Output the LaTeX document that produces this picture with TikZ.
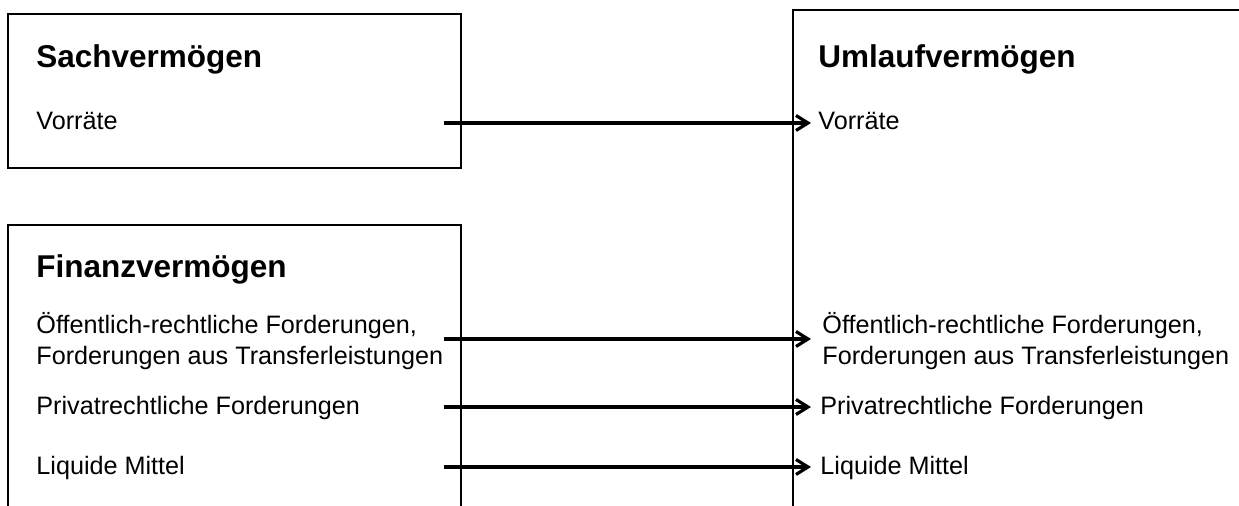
\documentclass[tikz,border=0pt]{standalone}
\usepackage{fontspec}
\setmainfont{Liberation Sans}
\usetikzlibrary{arrows.meta}

\begin{document}
\begin{tikzpicture}[x=0.5pt,y=-0.5pt,
  frame/.style={draw=black,line width=1.2pt},
  title/.style={anchor=base west,inner sep=0pt,font=\fontsize{15.75}{18}\selectfont\bfseries},
  item/.style={anchor=base west,inner sep=0pt,font=\fontsize{12.6}{15}\selectfont},
  link/.style={line width=1.6pt,-{Straight Barb[length=6pt,width=7.5pt,line width=1.6pt]}}]
\useasboundingbox (0,0) rectangle (1239,506);
\clip (0,0) rectangle (1239,506);

% boxes
\draw[frame] (8,14) rectangle (461,168);
\draw[frame] (8,225) rectangle (461,540);
\draw[frame] (793,10) rectangle (1280,540);

% Sachvermögen
\node[title] (sach) at (36,68) {Sachvermögen};
\node[item] (sv) at (36,130) {Vorräte};

% Finanzvermögen
\node[title] (fin) at (36,278) {Finanzvermögen};
\node[item] (fo1) at (36,334) {Öffentlich-rechtliche Forderungen,};
\node[item] (fo2) at (36,365) {Forderungen aus Transferleistungen};
\node[item] (fp) at (36,415) {Privatrechtliche Forderungen};
\node[item] (fl) at (36,475) {Liquide Mittel};

% Umlaufvermögen
\node[title] (uml) at (818,68) {Umlaufvermögen};
\node[item] (uv) at (818,130) {Vorräte};
\node[item] (uo1) at (822,334) {Öffentlich-rechtliche Forderungen,};
\node[item] (uo2) at (822,365) {Forderungen aus Transferleistungen};
\node[item] (up) at (820,415) {Privatrechtliche Forderungen};
\node[item] (ul) at (820,475) {Liquide Mittel};

% connector ends
\coordinate (a1) at (444,123);
\coordinate (b1) at (811,123);
\coordinate (a2) at (444,339);
\coordinate (b2) at (811,339);
\coordinate (a3) at (444,407);
\coordinate (b3) at (811,407);
\coordinate (a4) at (444,467);
\coordinate (b4) at (811,467);

\draw[link] (a1) -- (b1);
\draw[link] (a2) -- (b2);
\draw[link] (a3) -- (b3);
\draw[link] (a4) -- (b4);
\end{tikzpicture}
\end{document}
